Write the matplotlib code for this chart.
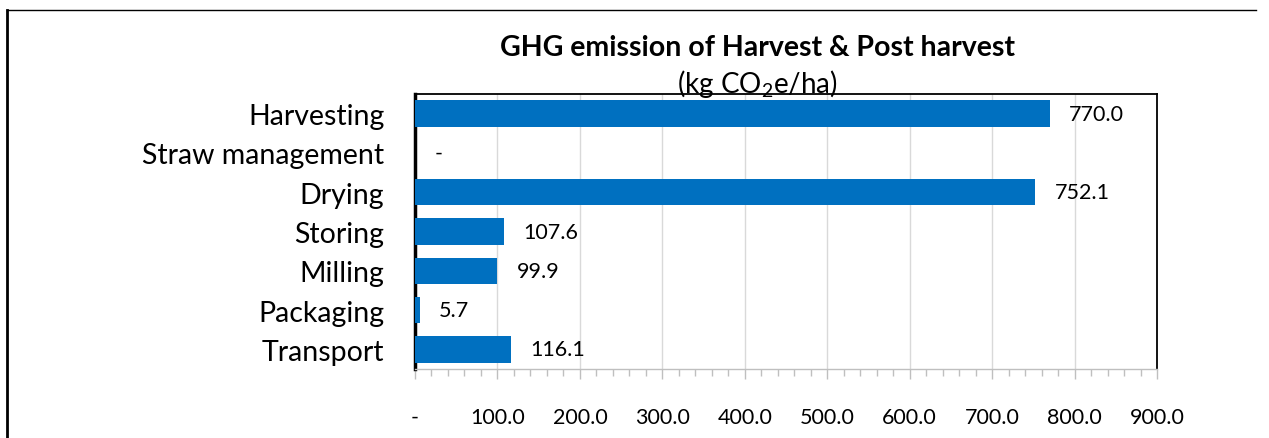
import matplotlib.pyplot as plt
from matplotlib.lines import Line2D
from matplotlib.ticker import MultipleLocator, FuncFormatter

plt.rcParams['font.family'] = ['Lato', 'DejaVu Sans']
plt.rcParams['mathtext.fontset'] = 'custom'
plt.rcParams['mathtext.rm'] = 'Lato'
plt.rcParams['mathtext.it'] = 'Lato'

stages = ["Harvesting", "Straw management", "Drying", "Storing",
          "Milling", "Packaging", "Transport"]
emissions = [770.0, 0.0, 752.1, 107.6, 99.9, 5.7, 116.1]
x_ticks = [0, 100, 200, 300, 400, 500, 600, 700, 800, 900]

blue = "#0070C0"


def fmt(v):
    return "-" if v == 0 else f"{v:.1f}"


fig = plt.figure(figsize=(12.69, 4.39), dpi=100)
ax = fig.add_axes([415 / 1269, 1 - 370 / 439, (1157 - 415) / 1269, (370 - 95) / 439])

y = list(range(len(stages)))
ax.barh(y, emissions, height=0.67, color=blue, zorder=3)
ax.set_ylim(len(stages) - 0.5, -0.5)
ax.set_xlim(0, 900)
ax.set_yticks(y)
ax.set_yticklabels(stages, fontsize=20.5)
ax.tick_params(axis='y', length=0, pad=22)

ax.set_xticks(x_ticks)
ax.xaxis.set_major_formatter(FuncFormatter(lambda v, p: fmt(v)))
ax.xaxis.set_minor_locator(MultipleLocator(20))
ax.tick_params(axis='x', which='both', direction='out', colors='#BFBFBF',
               labelcolor='black', labelsize=15.5, pad=20)
ax.tick_params(axis='x', which='major', length=7, width=1)
ax.tick_params(axis='x', which='minor', length=5, width=1)
ax.grid(axis='x', color='#D9D9D9', linewidth=1, zorder=0)

for s in ['left', 'right', 'top']:
    ax.spines[s].set_color('black')
    ax.spines[s].set_linewidth(1.3)
ax.spines['left'].set_linewidth(2.5)
ax.spines['bottom'].set_color('#BFBFBF')
ax.spines['bottom'].set_linewidth(1)

for yi, v in zip(y, emissions):
    ax.annotate(fmt(v), (v, yi), xytext=(14, 0), textcoords='offset points',
                va='center', ha='left', fontsize=15.5, zorder=4)

fig.text(757 / 1269, 1 - 48 / 439, "GHG emission of Harvest & Post harvest",
         ha='center', va='center', fontsize=20.5, fontweight='bold')
fig.text(757 / 1269, 1 - 84 / 439, r"(kg CO$_2$e/ha)",
         ha='center', va='center', fontsize=20, zorder=10)

# outer chart frame
fig.add_artist(Line2D([7 / 1269, 7 / 1269], [0, 1 - 11 / 439],
                      transform=fig.transFigure, color='black', linewidth=2))
fig.add_artist(Line2D([7 / 1269, 1256 / 1269], [1 - 11 / 439, 1 - 11 / 439],
                      transform=fig.transFigure, color='black', linewidth=1))

fig.savefig("out.png", dpi=100)
